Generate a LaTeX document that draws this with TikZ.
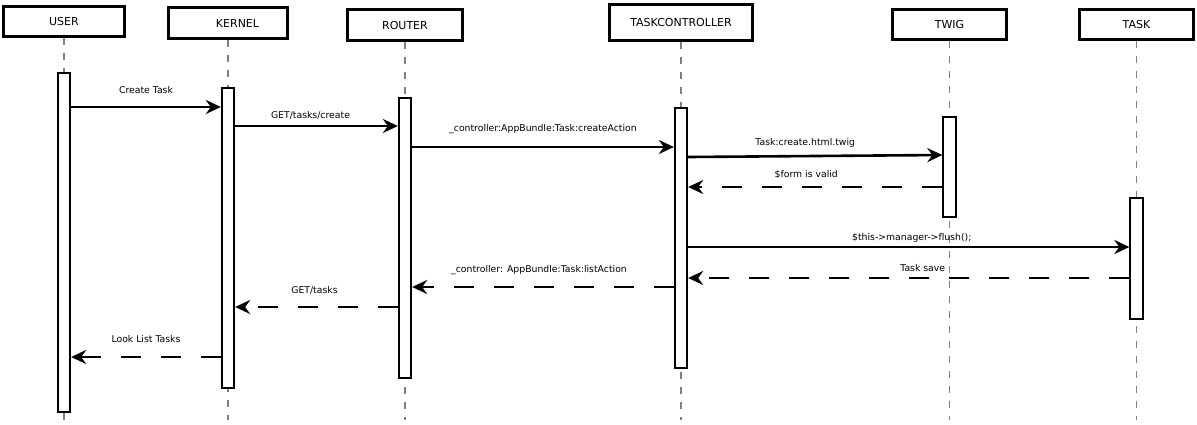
\documentclass[tikz,border=0pt]{standalone}
\usepackage{fontspec}
\setmainfont{DejaVu Sans}
\usetikzlibrary{arrows.meta,positioning,calc}
\tikzset{
    obj-box/.style={
        rectangle,
        draw=black,
        line width=3.2pt,
        fill=white,
        font=\fontsize{11}{13}\selectfont,
        inner sep=0pt
    },
    act-bar/.style={
        rectangle,
        draw=black,
        line width=1.8pt,
        fill=white,
        minimum width=12.5pt,
        anchor=north,
        inner sep=0pt
    },
    life-line/.style={
        draw=black!50,
        line width=1.5pt,
        dash pattern=on 7pt off 8pt
    },
    call/.style={
        draw,
        line width=2.6pt,
        -{Stealth[length=15pt,width=14pt,inset=5pt]}
    },
    reply/.style={
        call,
        dash pattern=on 20pt off 20pt
    },
    msg-text/.style={
        font=\fontsize{9.3}{11}\selectfont,
        inner sep=0pt,
        midway,
        anchor=base,
        yshift=#1
    },
}

\begin{document}
\begin{tikzpicture}[x=1pt,y=-1pt]
       \useasboundingbox (0,0) rectangle (1197,424);

       % Objects
       \node[obj-box,minimum width=120.8pt,minimum height=29.8pt] (user) at (64,21.5) {USER};
       \node[obj-box,minimum width=118.8pt,minimum height=30.8pt] (kernel) at (228,23) {\hspace*{19pt}KERNEL};
       \node[obj-box,minimum width=114.8pt,minimum height=30.8pt] (router) at (405,25) {ROUTER};
       \node[obj-box,minimum width=142.8pt,minimum height=35.8pt] (ctrl) at (681,22.5) {TASKCONTROLLER};
       \node[obj-box,minimum width=113.8pt,minimum height=29.8pt] (twig) at (949.5,24.5) {TWIG};
       \node[obj-box,minimum width=113.8pt,minimum height=29.8pt] (task) at (1136.5,24.5) {TASK};
       \coordinate (bottom) at (0,420);

       % Lifelines
       \draw[life-line] (user.south) -- (user.south |- bottom);
       \draw[life-line] (kernel.south) -- (kernel.south |- bottom);
       \draw[life-line] (router.south) -- (router.south |- bottom);
       \draw[life-line] (ctrl.south) -- (ctrl.south |- bottom);
       \draw[life-line] (twig.south) -- (twig.south |- bottom);
       \draw[life-line] (task.south) -- (task.south |- bottom);

       % Activations
       \node[act-bar,minimum height=339pt] (userbar) at (user.south |- 0,72) {};
       \node[act-bar,minimum height=300pt] (kernelbar) at (kernel.south |- 0,87) {};
       \node[act-bar,minimum height=280pt] (routerbar) at (router.south |- 0,97) {};
       \node[act-bar,minimum height=260pt] (ctrlbar) at (ctrl.south |- 0,107) {};
       \node[act-bar,minimum height=100pt] (twigbar) at (twig.south |- 0,116) {};
       \node[act-bar,minimum height=121pt] (taskbar) at (task.south |- 0,197) {};

       % Messages
       \coordinate (m1) at (0,107);
       \coordinate (m2) at (0,126);
       \coordinate (m3) at (0,147);
       \coordinate (m4) at (0,157);
       \coordinate (m5) at (0,187);
       \coordinate (m6) at (0,247);
       \coordinate (m7) at (0,278);
       \coordinate (m8) at (0,287);
       \coordinate (m9) at (0,307);
       \coordinate (m10) at (0,357);

       \draw[call] (userbar.east |- m1) -- (kernelbar.west |- m1)
           node[msg-text=13.5pt] {Create Task};
       \draw[call] (kernelbar.east |- m2) -- (routerbar.west |- m2)
           node[msg-text=8pt,xshift=-6pt] {GET/tasks/create};
       \draw[call] (routerbar.east |- m3) -- (ctrlbar.west |- m3)
           node[msg-text=15.5pt] {\_controller:AppBundle:Task:createAction};
       \draw[call] (ctrlbar.east |- m4) -- ([yshift=2pt]twigbar.west |- m4)
           node[msg-text=10.5pt,xshift=-10pt] {Task:create.html.twig};
       \draw[reply] (twigbar.west |- m5) -- (ctrlbar.east |- m5)
           node[msg-text=10pt,xshift=-9pt] {\$form is valid};

       \draw[call] (ctrlbar.east |- m6) -- (taskbar.west |- m6)
           node[msg-text=7pt,xshift=3pt] {\$this->manager->flush();};
       \draw[reply] (taskbar.west |- m7) -- (ctrlbar.east |- m7)
           node[msg-text=7pt,xshift=14pt] {Task save};

       \draw[reply] (ctrlbar.west |- m8) -- (routerbar.east |- m8)
           node[msg-text=15pt,xshift=-4pt] {\_controller: AppBundle:Task:listAction};
       \draw[reply] (routerbar.west |- m9) -- (kernelbar.east |- m9)
           node[msg-text=14pt,xshift=-2pt] {GET/tasks};
       \draw[reply] (kernelbar.west |- m10) -- (userbar.east |- m10)
           node[msg-text=15pt] {Look List Tasks};

   \end{tikzpicture}
\end{document}
